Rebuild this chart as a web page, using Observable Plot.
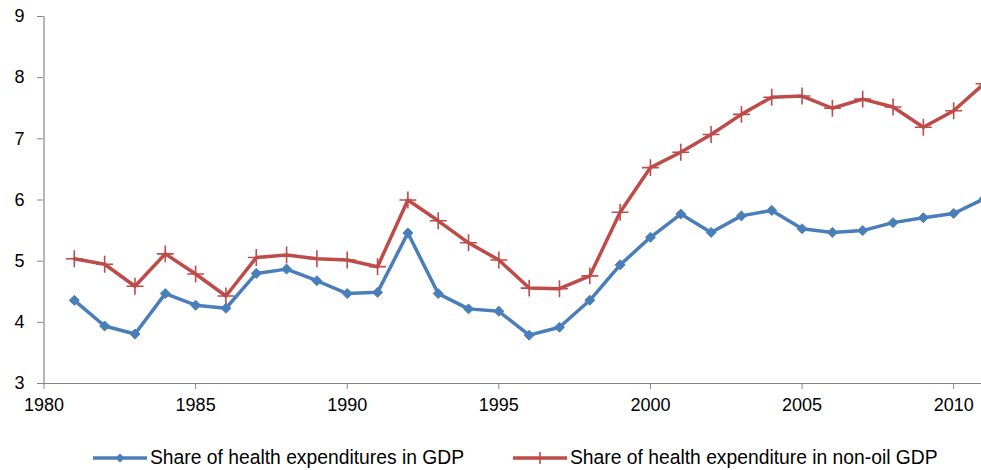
<!DOCTYPE html>
<html>
<head>
<meta charset="utf-8">
<script src="https://cdn.jsdelivr.net/npm/d3@7"></script>
<script src="https://cdn.jsdelivr.net/npm/@observablehq/plot@0.6"></script>
<style>
  html, body { margin: 0; padding: 0; background: #fff; }
  body { width: 981px; height: 470px; overflow: hidden; font-family: "Liberation Sans", Arial, sans-serif; }
  #legend { position: relative; height: 50px; width: 981px; }
  .item { position: absolute; top: 27px; display: flex; align-items: center; font-size: 19.3px; color: #000; white-space: nowrap; }
  .item svg { margin-right: 3px; }
</style>
</head>
<body>
<div id="chart"></div>
<div id="legend"></div>
<script>
const years = d3.range(1981, 2012);
const seriesNames = ["Share of health expenditures in GDP", "Share of health expenditure in non-oil GDP"];
const gdpShare = [4.36, 3.94, 3.81, 4.47, 4.28, 4.23, 4.80, 4.87, 4.68, 4.47, 4.49, 5.46, 4.47, 4.22, 4.18, 3.79, 3.92, 4.36, 4.94, 5.39, 5.77, 5.47, 5.74, 5.83, 5.53, 5.47, 5.50, 5.63, 5.71, 5.78, 6.02];
const nonOilShare = [5.04, 4.95, 4.59, 5.12, 4.79, 4.43, 5.06, 5.10, 5.04, 5.02, 4.91, 6.00, 5.66, 5.30, 5.02, 4.56, 4.55, 4.76, 5.80, 6.53, 6.78, 7.07, 7.40, 7.68, 7.70, 7.50, 7.65, 7.52, 7.19, 7.46, 7.90];
const xTicks = [1980, 1985, 1990, 1995, 2000, 2005, 2010];
const yTicks = [3, 4, 5, 6, 7, 8, 9];
const colors = ["#4A7EBB", "#BE4B48"];

const blue = years.map((y, i) => ({year: y, value: gdpShare[i]}));
const red = years.map((y, i) => ({year: y, value: nonOilShare[i]}));

const axisColor = "#868686";
const chart = Plot.plot({
  width: 981,
  height: 420,
  marginTop: 16,
  marginBottom: 37,
  marginLeft: 43,
  marginRight: 0,
  style: {fontFamily: "Liberation Sans, Arial, sans-serif", fontSize: "18px", color: "#000", overflow: "visible"},
  x: {domain: [1980, 2011], range: [43.5, 983.5]},
  y: {domain: [3, 9]},
  marks: [
    Plot.axisX({ticks: xTicks, tickFormat: d => String(d), tickSize: 6, tickPadding: 9, stroke: axisColor, fill: "#000", label: null}),
    Plot.axisY({ticks: yTicks, tickFormat: d => String(d), tickSize: 6, tickPadding: 13, stroke: axisColor, fill: "#000", label: null}),
    Plot.ruleY([3], {stroke: axisColor, strokeWidth: 1.2}),
    Plot.ruleX([1980], {stroke: axisColor, strokeWidth: 1.2}),
    Plot.line(red, {x: "year", y: "value", stroke: colors[1], strokeWidth: 3.5}),
    Plot.dot(red, {x: "year", y: "value", symbol: "plus", stroke: colors[1], strokeWidth: 1.6, r: 5.5}),
    Plot.line(blue, {x: "year", y: "value", stroke: colors[0], strokeWidth: 3.5}),
    Plot.dot(blue, {x: "year", y: "value", symbol: "diamond2", fill: colors[0], stroke: colors[0], strokeWidth: 1, r: 4.5})
  ]
});
document.getElementById("chart").appendChild(chart);

// legend
const legend = document.getElementById("legend");
const lefts = [93, 513];
seriesNames.forEach((name, i) => {
  const item = document.createElement("div");
  item.className = "item";
  item.style.left = lefts[i] + "px";
  const marker = i === 0
    ? `<path d="M27,3.5 L31.5,8 L27,12.5 L22.5,8 Z" fill="${colors[0]}"/>`
    : `<path d="M27,2 V14 M21,8 H33" stroke="${colors[1]}" stroke-width="1.6"/>`;
  item.innerHTML = `<svg width="54" height="16"><line x1="0" y1="8" x2="54" y2="8" stroke="${colors[i]}" stroke-width="3.5"/>${marker}</svg><span>${name}</span>`;
  legend.appendChild(item);
});
</script>
</body>
</html>
